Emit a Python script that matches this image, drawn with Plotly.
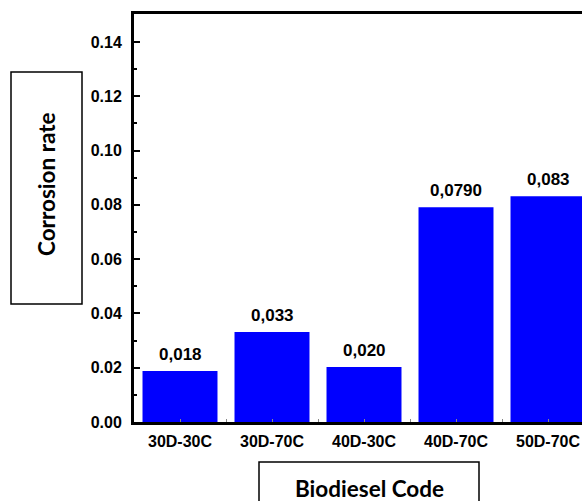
import plotly.graph_objects as go

categories = ["30D-30C", "30D-70C", "40D-30C", "40D-70C", "50D-70C"]
values = [0.0188, 0.0332, 0.0203, 0.0791, 0.0832]
value_labels = ["0,018", "0,033", "0,020", "0,0790", "0,083"]
y_ticks = [0.00, 0.02, 0.04, 0.06, 0.08, 0.10, 0.12, 0.14]

W, H = 582, 501
L, T, B, R = 134, 14, 79, 0
pw, ph = W - L - R, H - T - B

def px(x):
    return (x - L) / pw

def py(y):
    return (H - B - y) / ph

xs = list(range(len(categories)))
tick_font = dict(family="Liberation Sans, Arial", size=16, color="black", weight="bold")

fig = go.Figure()
fig.add_trace(go.Bar(
    x=xs, y=values, width=0.815,
    marker=dict(color="#0000FF", line=dict(width=0)),
    hoverinfo="skip",
))

for x, v, lab in zip(xs, values, value_labels):
    fig.add_annotation(x=x, y=v, text=lab, showarrow=False, yanchor="bottom",
                       yshift=5, font=dict(family="Liberation Sans, Arial", size=17,
                                           color="black", weight="bold"))

cat_w = 92
fig.update_xaxes(
    range=[-0.5, -0.5 + pw / cat_w],
    tickmode="array", tickvals=xs, ticktext=categories,
    tickfont=tick_font,
    showline=True, linecolor="black", linewidth=3, mirror=True,
    ticks="inside", ticklen=3, tickcolor="#888888", tickwidth=1,
    minor=dict(ticks="inside", ticklen=3, tickcolor="#888888", tickwidth=1,
               tickmode="array", tickvals=[x + 0.5 for x in xs]),
    showgrid=False, zeroline=False, ticklabelstandoff=3,
)
fig.update_yaxes(
    range=[0, 0.1503],
    tickmode="array", tickvals=y_ticks, tickformat=".2f",
    tickfont=tick_font,
    showline=True, linecolor="black", linewidth=3, mirror=False,
    ticks="inside", ticklen=6, tickwidth=2, tickcolor="black",
    minor=dict(ticks="inside", ticklen=3, tickwidth=2, tickcolor="black",
               tickmode="array", tickvals=[t + 0.01 for t in y_ticks]),
    showgrid=False, zeroline=False, ticklabelstandoff=6,
)

# title boxes
fig.add_shape(type="rect", xref="paper", yref="paper",
              x0=px(11), x1=px(82), y0=py(304), y1=py(72),
              line=dict(color="black", width=1.5), fillcolor="rgba(0,0,0,0)")
fig.add_shape(type="rect", xref="paper", yref="paper",
              x0=px(259), x1=px(479), y0=py(520), y1=py(462),
              line=dict(color="black", width=1.5), fillcolor="rgba(0,0,0,0)")

title_font = dict(family="Lato, Open Sans", size=22.5, color="black", weight="bold")
fig.add_annotation(xref="paper", yref="paper", x=px(47), y=py(185), text="Corrosion rate",
                   textangle=-90, showarrow=False, xanchor="center", yanchor="middle",
                   font=title_font)
fig.add_annotation(xref="paper", yref="paper", x=px(369), y=py(488), text="Biodiesel Code",
                   showarrow=False, xanchor="center", yanchor="middle", font=title_font)

fig.update_layout(
    width=W, height=H,
    margin=dict(l=L, r=R, t=T, b=B),
    paper_bgcolor="white", plot_bgcolor="white",
    showlegend=False,
)

fig.write_html("out.html", config={"displayModeBar": False},
               post_script="document.body.style.margin='0';document.body.style.overflow='hidden';")
